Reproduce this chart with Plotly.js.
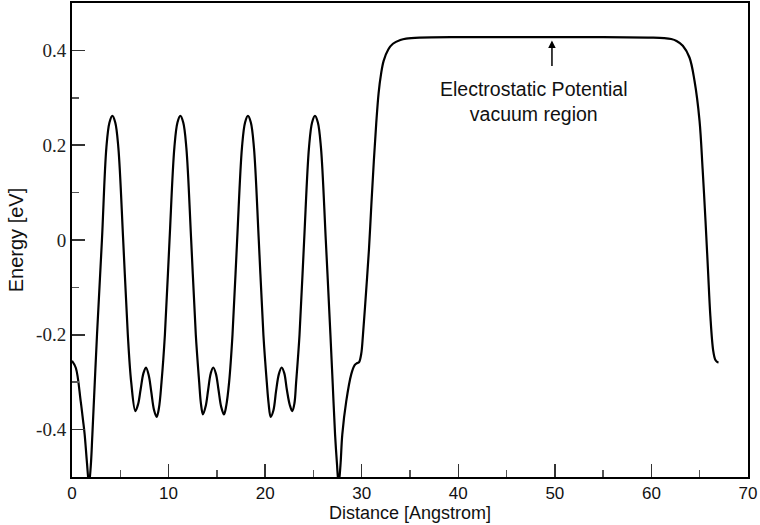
<!DOCTYPE html>
<html>
<head>
<meta charset="utf-8">
<script src="https://cdn.plot.ly/plotly-3.0.1.min.js"></script>
<style>html,body{margin:0;padding:0;background:#fff;}#chart{width:760px;height:525px;}</style>
</head>
<body>
<div id="chart"></div>
<script>
// Planar-averaged electrostatic potential
const distance = [0,0.4,0.9,1.14,1.31,1.55,1.76,1.95,2.11,2.59,3.1,3.56,3.88,4.18,4.48,4.8,5.3,5.78,6.13,6.56,6.85,7.1,7.4,7.66,7.95,8.2,8.5,8.77,9.0,9.27,9.62,10.1,10.6,10.92,11.22,11.52,11.84,12.34,12.82,13.17,13.35,13.56,13.85,14.1,14.37,14.63,14.9,15.17,15.45,15.74,15.97,16.27,16.62,17.1,17.6,17.92,18.22,18.52,18.84,19.34,19.82,20.17,20.36,20.57,20.86,21.13,21.42,21.71,21.98,22.25,22.55,22.81,23.03,23.21,23.56,24.04,24.54,24.86,25.16,25.46,25.78,26.28,26.76,27.0,27.24,27.43,27.61,27.8,27.99,28.4,28.92,29.27,29.5,29.72,29.95,30.13,30.45,30.75,31.0,31.25,31.5,31.75,32.0,32.27,32.75,33.23,34.0,34.6,36,40,45,50,55,60,61.3,62.05,62.6,63.25,63.94,64.46,64.98,65.3,65.6,65.85,66.1,66.4,66.6,66.8,66.95];
const energy = [-0.255,-0.27,-0.34,-0.38,-0.41,-0.47,-0.515,-0.475,-0.41,-0.2,0.0,0.195,0.248,0.262,0.248,0.195,0.0,-0.2,-0.30,-0.361,-0.346,-0.316,-0.281,-0.269,-0.286,-0.319,-0.359,-0.373,-0.355,-0.30,-0.20,0.0,0.195,0.248,0.262,0.248,0.195,0.0,-0.2,-0.30,-0.345,-0.368,-0.35,-0.316,-0.281,-0.269,-0.282,-0.316,-0.352,-0.368,-0.35,-0.30,-0.20,0.0,0.195,0.248,0.262,0.248,0.195,0.0,-0.2,-0.30,-0.345,-0.373,-0.359,-0.319,-0.283,-0.269,-0.281,-0.316,-0.348,-0.361,-0.345,-0.30,-0.20,0.0,0.195,0.248,0.262,0.248,0.195,0.0,-0.2,-0.305,-0.41,-0.47,-0.515,-0.475,-0.41,-0.34,-0.283,-0.264,-0.26,-0.258,-0.24,-0.2,-0.11,-0.02,0.075,0.165,0.245,0.31,0.35,0.378,0.402,0.414,0.422,0.425,0.427,0.428,0.428,0.428,0.428,0.427,0.426,0.424,0.42,0.41,0.385,0.336,0.252,0.15,0.04,-0.06,-0.16,-0.234,-0.252,-0.257,-0.258];

const xTickVals = [0,10,20,30,40,50,60,70];
const xTickText = ['0','10','20','30','40','50','60','70'];
const xMinorVals = [5,15,25,35,45,55,65];
const yTickVals = [-0.4,-0.2,0,0.2,0.4];
const yTickText = ['-0.4','-0.2','0','0.2','0.4'];
const yMinorVals = [-0.3,-0.1,0.1,0.3];

const noteText = 'Electrostatic Potential<br>vacuum region';
const noteX = 47.8, noteY = 0.292;
const arrowX = 49.7, arrowY = 0.421;

const trace = {
  x: distance, y: energy, type: 'scatter', mode: 'lines',
  line: {color: '#000', width: 2.2, shape: 'spline', smoothing: 1},
  hoverinfo: 'skip'
};

const layout = {
  width: 760, height: 525,
  margin: {l: 72, r: 12, t: 3, b: 48, pad: 0},
  paper_bgcolor: '#fff', plot_bgcolor: '#fff',
  showlegend: false,
  font: {family: 'Liberation Sans, Arial, sans-serif', color: '#111'},
  xaxis: {
    range: [0, 70], tickmode: 'array', tickvals: xTickVals, ticktext: xTickText,
    ticks: 'inside', ticklen: 13, tickwidth: 1.5, tickcolor: '#333',
    minor: {tickmode: 'array', tickvals: xMinorVals, ticks: 'inside', ticklen: 7, tickwidth: 1.5, tickcolor: '#555', showgrid: false},
    showline: true, mirror: true, linecolor: '#000', linewidth: 2,
    showgrid: false, zeroline: false,
    tickfont: {family: 'Liberation Sans, Arial, sans-serif', size: 17, color: '#111'},
    title: {text: 'Distance [Angstrom]', font: {family: 'Liberation Sans, Arial, sans-serif', size: 18, color: '#111'}, standoff: 2}
  },
  yaxis: {
    range: [-0.5, 0.5], tickmode: 'array', tickvals: yTickVals, ticktext: yTickText,
    ticks: 'inside', ticklen: 13, tickwidth: 1.5, tickcolor: '#333',
    minor: {tickmode: 'array', tickvals: yMinorVals, ticks: 'inside', ticklen: 7, tickwidth: 1.5, tickcolor: '#555', showgrid: false},
    showline: true, mirror: true, linecolor: '#000', linewidth: 2,
    showgrid: false, zeroline: false,
    tickfont: {family: 'Liberation Serif, Times New Roman, serif', size: 19, color: '#222'},
    title: {text: 'Energy [eV]', font: {family: 'Liberation Sans, Arial, sans-serif', size: 20, color: '#111'}, standoff: 7}
  },
  annotations: [
    {x: arrowX, y: arrowY, xref: 'x', yref: 'y', text: '', showarrow: true,
     ax: 0, ay: 27, arrowhead: 2, arrowsize: 1, arrowwidth: 1.5, arrowcolor: '#000', standoff: 0, startstandoff: 0,
     font: {size: 1}},
    {x: noteX, y: noteY, xref: 'x', yref: 'y', text: noteText, showarrow: false,
     xanchor: 'center', yanchor: 'middle', align: 'center',
     font: {family: 'Liberation Sans, Arial, sans-serif', size: 19.5, color: '#111'}}
  ]
};

Plotly.newPlot('chart', [trace], layout, {displayModeBar: false, staticPlot: true});
</script>
</body>
</html>
